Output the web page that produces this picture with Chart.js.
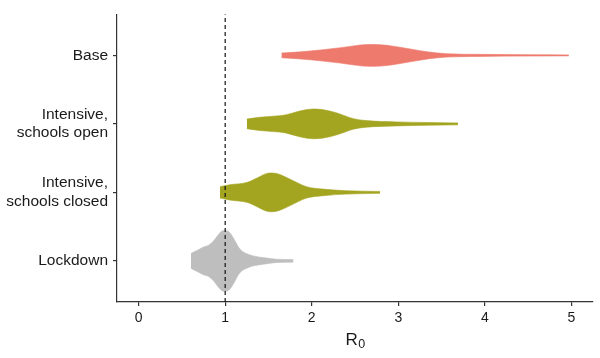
<!DOCTYPE html>
<html>
<head>
<meta charset="utf-8">
<script src="https://cdn.jsdelivr.net/npm/chart.js@4/dist/chart.umd.min.js"></script>
<style>
html,body{margin:0;padding:0;background:#fff;}
canvas{display:block;}
</style>
</head>
<body>
<canvas id="c" width="600" height="358"></canvas>
<script>
// ---- data ----
const categories = ["Lockdown", "Intensive,\nschools closed", "Intensive,\nschools open", "Base"];
const xTickValues = [0, 1, 2, 3, 4, 5];
const xTitle = "R₀";
const referenceR0 = 1;

// violin outlines: R0 positions and half-widths (category units)
const lockdownR0        = [0.604, 0.635, 0.692, 0.750, 0.807, 0.865, 0.923, 0.962, 1.000, 1.038, 1.077, 1.115, 1.153, 1.193, 1.250, 1.326, 1.442, 1.596, 1.788];
const lockdownHalfWidth = [0.106, 0.130, 0.164, 0.203, 0.227, 0.290, 0.386, 0.435, 0.444, 0.430, 0.372, 0.290, 0.203, 0.145, 0.106, 0.072, 0.048, 0.024, 0.019];

const closedR0          = [0.94, 1.05, 1.25, 1.38, 1.45, 1.52, 1.58, 1.63, 1.75, 1.94, 2.13, 2.40, 2.79];
const closedHalfWidth   = [0.083, 0.111, 0.145, 0.217, 0.262, 0.283, 0.278, 0.262, 0.193, 0.083, 0.048, 0.025, 0.014];

const openR0            = [1.25, 1.40, 1.63, 1.71, 1.85, 1.95, 2.02, 2.09, 2.15, 2.29, 2.48, 2.63, 2.98, 3.36, 3.69];
const openHalfWidth     = [0.070, 0.097, 0.120, 0.135, 0.184, 0.210, 0.217, 0.213, 0.203, 0.160, 0.077, 0.048, 0.029, 0.019, 0.014];

const baseR0            = [1.65, 1.83, 2.13, 2.33, 2.52, 2.60, 2.69, 2.80, 2.94, 3.17, 3.36, 3.56, 3.94, 4.52, 4.97];
const baseHalfWidth     = [0.034, 0.048, 0.083, 0.112, 0.145, 0.156, 0.160, 0.155, 0.135, 0.087, 0.048, 0.025, 0.015, 0.010, 0.007];

const groupColors = ["#BEBEBE", "#A3A41F", "#A3A41F", "#EE7A6D"];
const groups = [
  {r0: lockdownR0, hw: lockdownHalfWidth},
  {r0: closedR0,   hw: closedHalfWidth},
  {r0: openR0,     hw: openHalfWidth},
  {r0: baseR0,     hw: baseHalfWidth}
];

// ---- build datasets ----
const datasets = [];
// dashed reference line first so it is drawn on top
datasets.push({
  data: [{x: referenceR0, y: 0.4}, {x: referenceR0, y: 4.6}],
  borderColor: "#111",
  borderWidth: 1.2,
  borderDash: [4, 3],
  pointRadius: 0,
  fill: false
});
groups.forEach((g, i) => {
  const pos = i + 1;
  const col = groupColors[i];
  datasets.push({
    data: g.r0.map((x, k) => ({x: x, y: pos + g.hw[k]})),
    borderColor: col, backgroundColor: col, borderWidth: 0.6,
    pointRadius: 0, cubicInterpolationMode: "monotone",
    fill: "+1"
  });
  datasets.push({
    data: g.r0.map((x, k) => ({x: x, y: pos - g.hw[k]})),
    borderColor: col, backgroundColor: col, borderWidth: 0.6,
    pointRadius: 0, cubicInterpolationMode: "monotone",
    fill: false
  });
});

const axisColor = "#333";
const textColor = "#1a1a1a";
const fontFamily = "'Liberation Sans', Arial, Helvetica, sans-serif";

// axis title with a real-size subscript (R and subscript 0)
const subscriptTitle = {
  id: "subscriptTitle",
  afterDraw(chart) {
    const ctx = chart.ctx, ca = chart.chartArea, xs = chart.scales.x;
    const main = xTitle.replace(/[\u2080-\u2089]/g, "");
    const sub = xTitle.replace(/[^\u2080-\u2089]/g, "").split("")
      .map(c => String.fromCharCode(c.charCodeAt(0) - 0x2080 + 48)).join("");
    ctx.save();
    ctx.fillStyle = textColor;
    ctx.textBaseline = "alphabetic";
    ctx.textAlign = "left";
    ctx.font = "17px " + fontFamily;
    const w1 = ctx.measureText(main).width;
    ctx.font = "12.5px " + fontFamily;
    const w2 = ctx.measureText(sub).width;
    const x0 = (ca.left + ca.right) / 2 - (w1 + w2) / 2;
    const baseY = xs.bottom - 13;
    ctx.font = "17px " + fontFamily;
    ctx.fillText(main, x0, baseY);
    ctx.font = "12.5px " + fontFamily;
    ctx.fillText(sub, x0 + w1 + 0.5, baseY + 3.3);
    ctx.restore();
  }
};

new Chart(document.getElementById("c"), {
  type: "line",
  data: {datasets: datasets},
  plugins: [subscriptTitle],
  options: {
    responsive: false,
    animation: false,
    devicePixelRatio: 1,
    layout: {padding: {top: 12, right: 7, bottom: 0, left: 0}},
    plugins: {legend: {display: false}, tooltip: {enabled: false}},
    scales: {
      x: {
        type: "linear",
        min: -0.25, max: 5.25,
        afterBuildTicks: s => { s.ticks = xTickValues.map(v => ({value: v})); },
        afterFit: s => { s.height = 56; },
        ticks: {
          autoSkip: false, maxRotation: 0, padding: 4,
          color: textColor, font: {family: fontFamily, size: 14},
          callback: v => String(v)
        },
        grid: {display: true, drawOnChartArea: false, drawTicks: true, tickLength: 4, color: axisColor, lineWidth: 1.2},
        border: {display: true, color: axisColor, width: 1.2},
        title: {display: false, text: xTitle}
      },
      y: {
        type: "linear",
        min: 0.4, max: 4.6,
        afterBuildTicks: s => { s.ticks = categories.map((c, i) => ({value: i + 1})); },
        afterFit: s => { s.width = 117; },
        ticks: {
          autoSkip: false, padding: 5,
          color: textColor, font: {family: fontFamily, size: 15.5, lineHeight: 1.2},
          callback: v => categories[Math.round(v) - 1].split("\n")
        },
        grid: {display: true, drawOnChartArea: false, drawTicks: true, tickLength: 4, color: axisColor, lineWidth: 1.2},
        border: {display: true, color: axisColor, width: 1.2}
      }
    }
  }
});
</script>
</body>
</html>
